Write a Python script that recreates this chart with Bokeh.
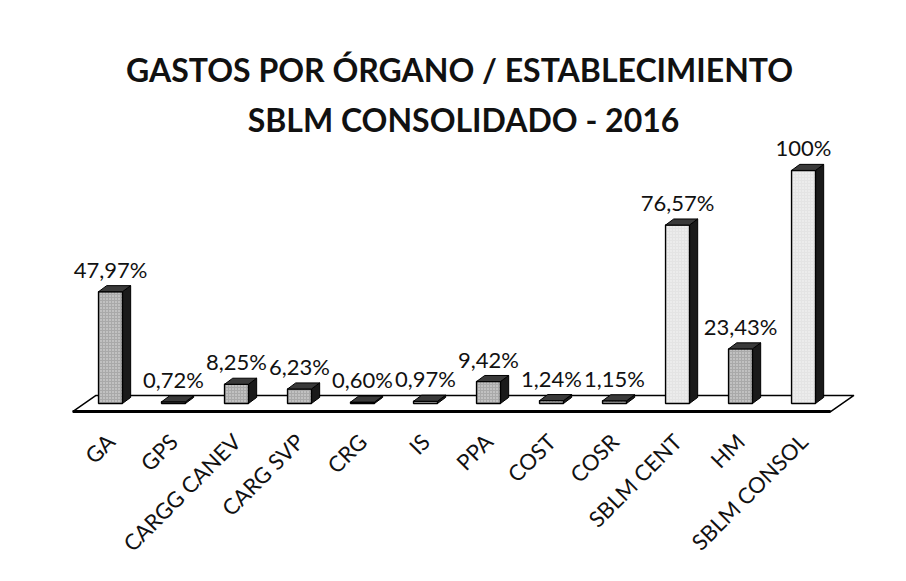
from bokeh.plotting import figure
from bokeh.models import Range1d, FixedTicker, Title, ColumnDataSource, LabelSet
from bokeh.core.properties import value
from bokeh.embed import file_html
from bokeh.resources import INLINE
import math

# ---- data ----
categories = ["GA", "GPS", "CARGG CANEV", "CARG SVP", "CRG", "IS", "PPA",
              "COST", "COSR", "SBLM CENT", "HM", "SBLM CONSOL"]
values = [47.97, 0.72, 8.25, 6.23, 0.60, 0.97, 9.42, 1.24, 1.15, 76.57, 23.43, 100]
labels = ["47,97%", "0,72%", "8,25%", "6,23%", "0,60%", "0,97%", "9,42%",
          "1,24%", "1,15%", "76,57%", "23,43%", "100%"]
kind = ["unit", "unit", "unit", "unit", "unit", "unit", "unit",
        "unit", "unit", "total", "unit", "total"]
title_1 = "GASTOS POR  ÓRGANO / ESTABLECIMIENTO"
title_2 = "SBLM CONSOLIDADO - 2016"

FONT = "Lato"
n = len(categories)
xs = list(range(n))

# 3D styling constants (data units)
HW = 0.19      # half width of bar front
DX = 0.13      # bar depth (x)
DY = 2.6       # bar depth (y)
FDX = 0.37     # floor depth (x)
FDY = 6.9      # floor depth (y)

p = figure(width=906, height=581, output_backend="svg", toolbar_location=None,
           x_range=Range1d(-1.111, 12.317), y_range=Range1d(-5.15, 113.7),
           min_border_left=40, min_border_right=20, min_border_top=138,
           min_border_bottom=166, background_fill_color="white",
           border_fill_color="white", outline_line_color=None)

# titles
p.add_layout(Title(text=title_2, align="center", text_font=FONT, text_font_size="32px",
                   text_font_style="bold", text_color="#111111", standoff=0), "above")
p.add_layout(Title(text=title_1, align="center", text_font=FONT, text_font_size="32px",
                   text_font_style="bold", text_color="#111111", standoff=17), "above")

# floor
fl = -0.6
fr = n - 1 + 0.43
p.patch([fl, fr, fr + FDX, fl + FDX], [-FDY / 2, -FDY / 2, FDY / 2, FDY / 2],
        fill_color="white", line_color="black", line_width=1.5)
p.line([fl, fr], [-FDY / 2, -FDY / 2], line_color="black", line_width=3)

# bars
side_xs, side_ys, top_xs, top_ys, fills = [], [], [], [], []
for x, v, k in zip(xs, values, kind):
    side_xs.append([x + HW, x + HW + DX, x + HW + DX, x + HW])
    side_ys.append([0, DY, v + DY, v])
    top_xs.append([x - HW, x + HW, x + HW + DX, x - HW + DX])
    top_ys.append([v, v, v + DY, v + DY])
    fills.append("#e4e4e4" if k == "total" else "#a9a9a9")

src = ColumnDataSource(dict(x=xs, top=values, fill=fills, label=labels,
                            sx=side_xs, sy=side_ys, tx=top_xs, ty=top_ys))

p.patches("sx", "sy", source=src, fill_color="#1a1a1a", line_color="black", line_width=1)
p.vbar(x="x", top="top", bottom=0, width=2 * HW, source=src, fill_color="fill",
       line_color="black", line_width=1.4, hatch_pattern="dot", hatch_scale=3,
       hatch_color="#ffffff", hatch_alpha=0.7)
p.patches("tx", "ty", source=src, fill_color="#3a3a3a", line_color="black", line_width=1)

# data labels
p.add_layout(LabelSet(x="x", y="top", text="label", source=src, text_align="center",
                      text_baseline="bottom", y_offset=9, text_font=value(FONT),
                      text_font_size="22px", text_color="#111111"))

# axes
p.yaxis.visible = False
p.xgrid.visible = False
p.ygrid.visible = False
ax = p.xaxis[0]
ax.ticker = FixedTicker(ticks=xs)
ax.major_label_overrides = {i: c for i, c in zip(xs, categories)}
ax.major_label_orientation = math.pi / 4
ax.major_label_text_font = FONT
ax.major_label_text_font_size = "22px"
ax.major_label_text_color = "#111111"
ax.major_label_standoff = 16
ax.axis_line_color = None
ax.major_tick_line_color = None
ax.minor_tick_line_color = None

open("out.html", "w").write(file_html(p, INLINE))
